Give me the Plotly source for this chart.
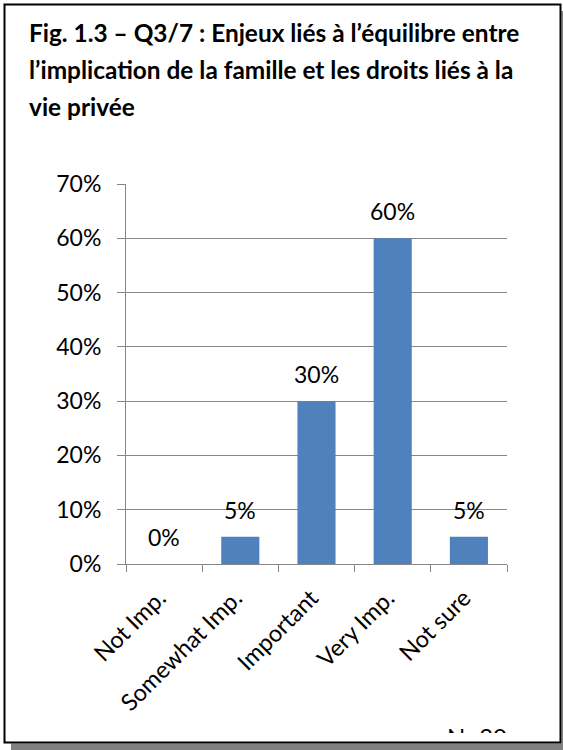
import plotly.graph_objects as go

# ---- data ----
categories = ["Not Imp.", "Somewhat Imp.", "Important", "Very Imp.", "Not sure"]
values = [0.00, 0.05, 0.30, 0.60, 0.05]
value_labels = ["0%", "5%", "30%", "60%", "5%"]
y_tickvals = [0, 0.1, 0.2, 0.3, 0.4, 0.5, 0.6, 0.7]
y_ticktext = ["0%", "10%", "20%", "30%", "40%", "50%", "60%", "70%"]
title_lines = [
    "Fig. 1.3 – Q3/7 : Enjeux liés à l’équilibre entre",
    "l’implication de la famille et les droits liés à la",
    "vie privée",
]
note_text = "N=20"

W, H = 563, 750
def px(x):
    return x / W
def py(y):
    return 1 - y / H

FONT = "Lato"
BAR = "#4F81BD"
GRID = "#878787"

fig = go.Figure()
fig.add_trace(go.Bar(
    x=categories, y=values, width=0.5,
    marker=dict(color=BAR, line=dict(width=0)),
    xaxis="x", yaxis="y", showlegend=False, hoverinfo="skip",
))

# clipped footnote (text cut by the frame like the original)
fig.add_trace(go.Scatter(
    x=[477], y=[-728], mode="text", text=[note_text],
    textposition="bottom center", cliponaxis=True,
    textfont=dict(family=FONT, size=24, color="black"),
    xaxis="x2", yaxis="y2", showlegend=False, hoverinfo="skip",
))

annotations = []
for c, v, t in zip(categories, values, value_labels):
    annotations.append(dict(
        x=c, y=v, xref="x", yref="y", text=t, showarrow=False,
        yanchor="middle", xanchor="center", yshift=27,
        font=dict(family=FONT, size=23, color="black"),
    ))

title_y = [16, 53, 90]
for line, ty in zip(title_lines, title_y):
    annotations.append(dict(
        x=px(27), y=py(ty), xref="paper", yref="paper", text="<b>" + line + "</b>",
        showarrow=False, xanchor="left", yanchor="top",
        font=dict(family=FONT, size=24.4, color="black"),
    ))

shapes = [
    # shadow
    dict(type="rect", xref="paper", yref="paper", x0=px(11), x1=px(563), y0=py(750), y1=py(743.5),
         fillcolor="#808080", line=dict(width=0), layer="below"),
    dict(type="rect", xref="paper", yref="paper", x0=px(561.5), x1=px(563), y0=py(750), y1=py(11),
         fillcolor="#808080", line=dict(width=0), layer="below"),
    # frame
    dict(type="rect", xref="paper", yref="paper", x0=px(4.5), x1=px(560.5), y0=py(742.5), y1=py(4.5),
         fillcolor="rgba(0,0,0,0)", line=dict(color="black", width=2), layer="above"),
]

fig.update_layout(
    width=W, height=H,
    margin=dict(l=0, r=0, t=0, b=0, autoexpand=False),
    paper_bgcolor="white", plot_bgcolor="white",
    font=dict(family=FONT, size=23, color="black"),
    xaxis=dict(
        domain=[px(126), px(507)], automargin=False,
        type="category", tickson="boundaries", ticks="outside", ticklen=7,
        tickcolor=GRID, tickwidth=1, showline=True, linecolor=GRID, linewidth=1,
        showgrid=False, tickangle=-45, tickfont=dict(family=FONT, size=23.5, color="black"),
        fixedrange=True, ticklabelstandoff=10, ticklabelshift=-5,
    ),
    yaxis=dict(
        domain=[py(564), py(184)], automargin=False,
        range=[0, 0.7], tickvals=y_tickvals, ticktext=y_ticktext,
        ticks="outside", ticklen=8, tickcolor=GRID, tickwidth=1,
        showline=True, linecolor=GRID, linewidth=1,
        showgrid=True, gridcolor=GRID, gridwidth=1, zeroline=False,
        tickfont=dict(family=FONT, size=23, color="black"),
        ticklabelstandoff=11, fixedrange=True,
    ),
    xaxis2=dict(domain=[px(400), px(550)], range=[400, 550], visible=False,
                fixedrange=True, automargin=False),
    yaxis2=dict(domain=[py(733), py(700)], range=[-733, -700], visible=False,
                fixedrange=True, automargin=False),
    annotations=annotations,
    shapes=shapes,
    showlegend=False,
)

fig.write_html("out.html", config={"displayModeBar": False})
